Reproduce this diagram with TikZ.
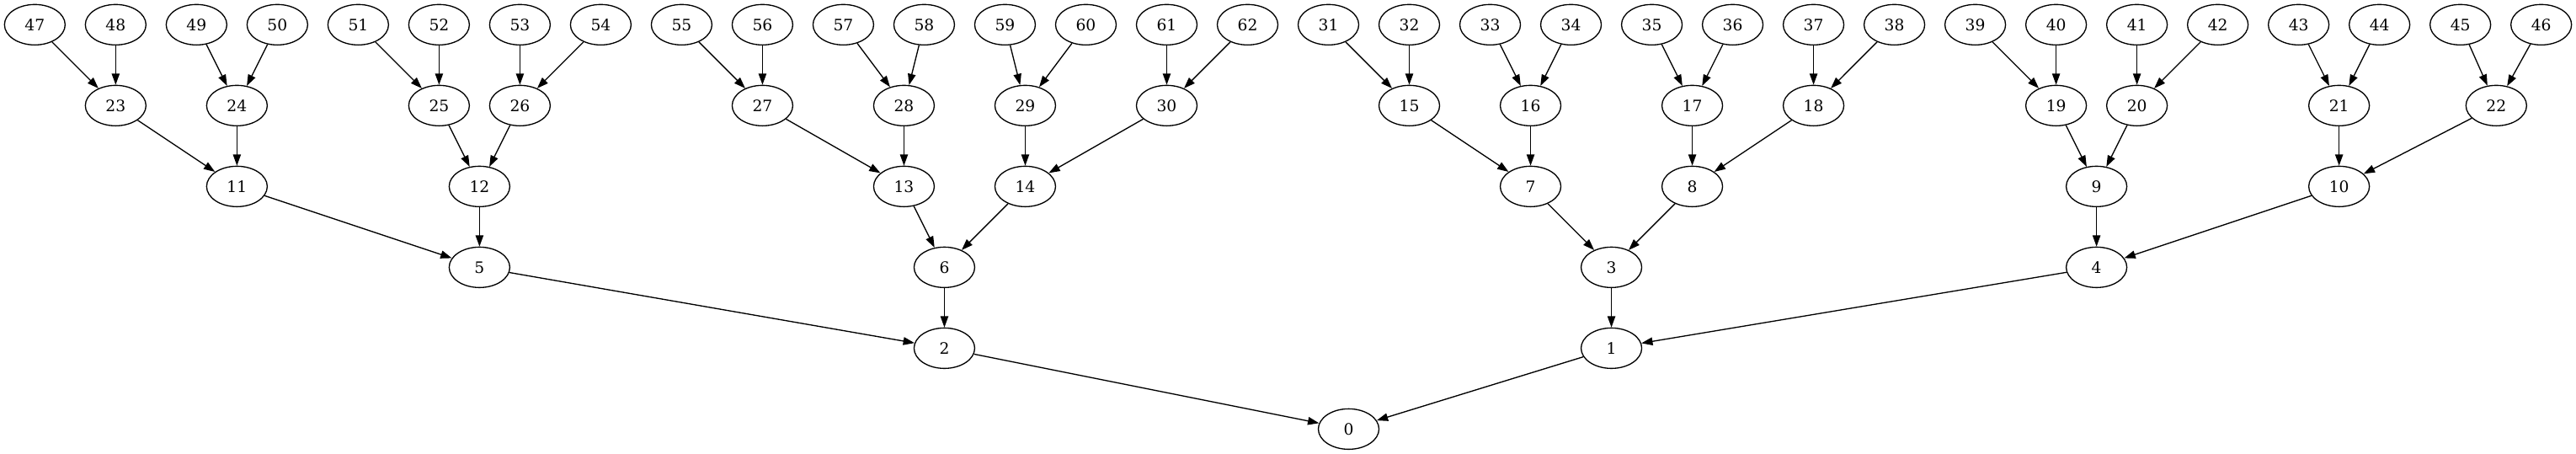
\documentclass[tikz,border=0pt]{standalone}
\usepackage{fontspec}
\setmainfont{DejaVu Serif}
\usetikzlibrary{arrows.meta,shapes.geometric}

\begin{document}
\begin{tikzpicture}[x=1pt,y=-1pt,-{Triangle[length=10pt,width=7pt]},line width=1pt,
  tree node/.style={ellipse,draw,minimum width=54pt,minimum height=36pt,inner sep=0pt,
    font=\fontsize{14}{16}\selectfont}]
  \useasboundingbox (0,0) rectangle (2294,404);

  % leaves
  \foreach \n [count=\k from 0] in {47,48,...,62,31,32,...,46}
    \node[tree node] (\n) at (31+72*\k,22) {\n};

  % inner levels
  \foreach \n/\x in {23/103,24/211,25/391,26/463,27/679,28/805,29/913,30/1039,
                     15/1255,16/1363,17/1507,18/1615,19/1831,20/1903,21/2083,22/2223}
    \node[tree node] (\n) at (\x,94) {\n};
  \foreach \n/\x in {11/211,12/427,13/805,14/913,7/1363,8/1507,9/1867,10/2083}
    \node[tree node] (\n) at (\x,166) {\n};
  \foreach \n/\x in {5/427,6/841,3/1435,4/1867}
    \node[tree node] (\n) at (\x,238) {\n};
  \node[tree node] (2) at (841,310) {2};
  \node[tree node] (1) at (1435,310) {1};
  \node[tree node] (0) at (1201,382) {0};

  % child -> parent
  \foreach \n in {1,...,62} {
    \pgfmathtruncatemacro{\p}{(\n-1)/2}
    \draw (\n) -- (\p);
  }
\end{tikzpicture}
\end{document}
